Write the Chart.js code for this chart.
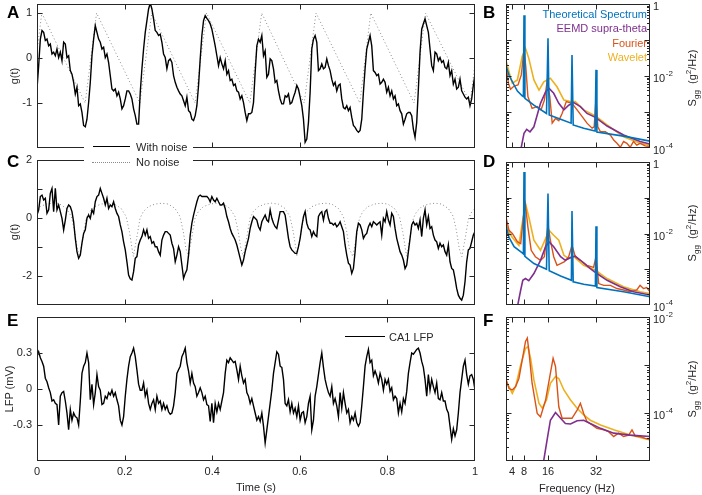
<!DOCTYPE html>
<html>
<head>
<meta charset="utf-8">
<script src="https://cdn.jsdelivr.net/npm/chart.js@4.4.1/dist/chart.umd.min.js"></script>
<style>
  body { margin: 0; background: #fff; }
  #fig { position: relative; width: 702px; height: 495px; overflow: hidden; font-family: "Liberation Sans", Arial, sans-serif; color: #262626; }
  #fig canvas { position: absolute; left: 0; top: 0; }
  .t { position: absolute; font-size: 11px; line-height: 12px; white-space: nowrap; }
  .c { transform: translate(-50%, -50%); }
  .r { transform: translate(-50%, -50%) rotate(-90deg); }
  .letter { position: absolute; font-size: 17px; line-height: 17px; font-weight: bold; color: #000; }
  .key { position: absolute; background: #fff; }
</style>
</head>
<body>
<div id="fig">
  <canvas id="cA" width="702" height="495"></canvas>
  <canvas id="cB" width="702" height="495"></canvas>
  <canvas id="cC" width="702" height="495"></canvas>
  <canvas id="cD" width="702" height="495"></canvas>
  <canvas id="cE" width="702" height="495"></canvas>
  <canvas id="cF" width="702" height="495"></canvas>

  <div class="letter" style="left:7px;top:4px">A</div>
  <div class="letter" style="left:483px;top:4px">B</div>
  <div class="letter" style="left:7px;top:153px">C</div>
  <div class="letter" style="left:483px;top:153px">D</div>
  <div class="letter" style="left:7px;top:312px">E</div>
  <div class="letter" style="left:483px;top:312px">F</div>

  <div class="t r" style="left:14px;top:76px">g(t)</div>
  <div class="t r" style="left:14px;top:232px">g(t)</div>
  <div class="t r" style="left:9px;top:389px">LFP (mV)</div>
  <div class="t c" style="left:256px;top:487px">Time (s)</div>
  <div class="t c" style="left:577px;top:488px">Frequency (Hz)</div>
  <div class="t r" style="left:693px;top:78px">S<sub style="font-size:8px">gg</sub>&nbsp; (g<sup style="font-size:8px">2</sup>/Hz)</div>
  <div class="t r" style="left:693px;top:233px">S<sub style="font-size:8px">gg</sub>&nbsp; (g<sup style="font-size:8px">2</sup>/Hz)</div>
  <div class="t r" style="left:693px;top:389px">S<sub style="font-size:8px">gg</sub>&nbsp; (g<sup style="font-size:8px">2</sup>/Hz)</div>

  <div class="t" style="right:55px;top:8px;color:#0072BD">Theoretical Spectrum</div>
  <div class="t" style="right:55px;top:22px;color:#7E2F8E">EEMD supra-theta</div>
  <div class="t" style="right:55px;top:37px;color:#D95319">Fourier</div>
  <div class="t" style="right:55px;top:51px;color:#EDB120">Wavelet</div>

  <div class="key" style="left:84px;top:139px;width:109px;height:31px"></div>
  <div class="key" style="left:93px;top:146px;width:37px;height:0;border-top:1.4px solid #000"></div>
  <div class="t" style="left:136px;top:141px">With noise</div>
  <div class="key" style="left:92px;top:162px;width:38px;height:0;border-top:1px dotted #8a8a8a"></div>
  <div class="t" style="left:136px;top:156px">No noise</div>

  <div class="key" style="left:345px;top:336px;width:40px;height:0;border-top:1.4px solid #000"></div>
  <div class="t" style="left:389px;top:331px">CA1 LFP</div>
</div>

<script>
// ---- axis ticks ----
const timeTicks = [0, 0.2, 0.4, 0.6, 0.8, 1];
const timeTickText = ['0', '0.2', '0.4', '0.6', '0.8', '1'];
const aTicks = [-1, 0, 1];
const aTickText = ['-1', '0', '1'];
const cTicks = [-2, -1, 0, 1, 2];
const cTickText = ['-2', '', '0', '', '2'];
const eTicks = [-0.3, 0, 0.3];
const eTickText = ['-0.3', '0', '0.3'];
const freqTicks = [4, 8, 16, 32];
const freqTickText = ['4', '8', '16', '32'];
const specTicks = [1e-4, 1e-2, 1];
const specTickText = ['10^-4', '10^-2', '1'];
const fTicks = [1e-4, 1e-2];
const fTickText = ['10^-4', '10^-2'];

// ---- A: sawtooth g(t), 1 s of samples ----
const aNoisy = [-0.69, -0.17, 0.42, 0.61, 0.57, 0.39, 0.42, 0.27, 0.31, 0.09, 0.13, 0.05, 0.20, 0.01, 0.13, -0.06, 0.35, 0.31, 0.01, 0.05,
  -0.28, -0.36, -0.54, -0.80, -0.65, -1.06, -1.02, -1.21, -1.50, -1.53, -1.36, -0.99, -0.54, 0.05, 0.42, 0.72, 0.57, 0.42, 0.35, 0.20,
  0.24, 0.01, 0.09, -0.10, -0.39, -0.69, -0.73, -0.69, -0.84, -0.76, -0.91, -1.13, -1.06, -0.91, -0.73, -0.73, -0.80, -0.91, -1.13, -1.28,
  -1.47, -1.47,
  -0.76, -0.24, 0.20, 0.57, 0.83, 1.09, 1.22, 1.09, 0.87, 0.61, 0.57, 0.50, 0.53, 0.35, 0.09, 0.01, -0.24, -0.06, -0.02, -0.10,
  -0.39, -0.54, -0.65, -0.73, -0.80, -0.84, -0.95, -1.06, -0.87, -1.17, -1.21, -1.36, -1.39, -1.28, -1.06, -0.61, -0.02, 0.50, 0.83, 0.94,
  0.88, 0.83, 0.76, 0.64, 0.46, 0.27, 0.05, -0.17, 0.01, -0.13, -0.24, -0.06, -0.36, -0.28, -0.50, -0.47, -0.61, -0.58, -0.73, -0.76,
  -0.91, -0.84, -0.99, -1.21, -1.39, -1.24, -1.24, -1.21, -0.99, -0.32, 0.27, 0.42, 0.35, 0.50, 0.05, 0.16, -0.43, -0.36, -0.02, -0.06,
  -0.24, -0.54, -0.50, -0.73, -0.91, -1.02, -1.02, -0.84, -0.87, -0.80, -1.02, -0.99, -0.87, -0.76, -0.61, -0.69, -0.87, -1.06, -1.36, -1.87,
  -1.80, -1.43, -0.76, 0.20, 0.42, 0.50, 0.35, -0.28, -0.24, -0.13, -0.24, -0.21, -0.02, -0.17, -0.28, -0.47, -0.61, -0.54, -0.73, -0.61,
  -0.58, -0.91, -1.10, -1.13, -1.06, -1.17, -1.10, -1.32, -1.50, -1.54, -1.61, -1.65, -1.61, -1.36, -0.76, -0.24, 0.20, 0.35, 0.50, 0.27,
  -0.28, -0.32, -0.39, -0.36, -0.58, -0.54, -0.47, -0.54, -0.76, -0.65, -0.84, -0.73, -0.91, -0.84, -1.06, -1.02, -1.17, -1.24, -1.47, -1.36,
  -1.24, -1.21, -1.21, -1.28, -1.58, -1.76, -1.43, -0.69, 0.13, 0.64, 0.76, 0.87, 0.72, 0.57, 0.20, -0.17, -0.28, 0.13, 0.09, -0.06,
  0.01, -0.10, -0.06, -0.21, -0.24, -0.10, -0.39, -0.28, -0.58, -0.47, -0.69, -0.65, -0.47, -0.73, -0.80, -0.87, -0.91, -0.87, -1.06, -0.91,
  -0.61, -0.36];
const aCleanT = [-0.015, 0.011, 0.110, 0.136, 0.235, 0.262, 0.361, 0.387, 0.486, 0.513, 0.610, 0.637, 0.737, 0.762, 0.861, 0.887, 0.989, 1.014];
const aCleanG = [-1, 1, -1, 1, -1, 1, -1, 1, -1, 1, -1, 1, -1, 1, -1, 1, -1, 1];

// ---- C: rounded-wave g(t) ----
const cNoisy = [0.10, 0.28, 0.74, 0.79, 0.62, 0.68, 0.16, 0.28, 0.85, 1.02, 0.22, 1.02, 0.28, 0.45, 0.22, -0.01, -0.41, -0.07, 0.33, 0.45,
  0.39, 0.22, -0.13, -0.70, -1.16, -1.39, -1.28, -0.87, -0.53, -0.41, -0.01, 0.10, -0.01, 0.28, 0.16, 0.56, 0.74, 0.79, 1.02, 0.85,
  0.68, 0.45, 0.68, 0.33, 0.45, 0.39, 0.56, 0.33, 0.16, 0.05, -0.24, -0.47, -0.82, -1.10, -1.51, -1.97, -2.10, -2.14, -1.85, -1.39,
  -1.33, -0.93, -0.76, -0.64, -0.41, -0.59, -0.41, -0.70, -0.64, -0.87, -0.82, -0.99, -0.99, -1.16, -1.28, -0.76, -0.59, -0.47, -0.47, -0.53,
  -0.59, -0.87, -1.05, -1.51, -1.28, -0.99, -1.16, -1.62, -2.08, -1.91, -1.79, -1.28, -0.59, -0.18, 0.10, 0.33, 0.56, 0.74, 0.79, 0.74,
  0.74, 0.74, 0.74, 0.68, 0.56, 0.74, 0.62, 0.56, 0.68, 0.56, 0.45, 0.45, 0.51, 0.33, 0.05, -0.13, -0.36, -0.53, -0.64, -0.76,
  -0.93, -1.16, -1.39, -1.62, -1.45, -1.16, -0.93, -0.70, -0.36, -0.13, 0.05, -0.01, -0.07, -0.30, -0.41, -0.13, -0.01, 0.10, -0.07, -0.13,
  0.28, -0.01, -0.18, -0.30, -0.36, -0.07, 0.22, 0.22, 0.22, 0.10, -0.30, -0.70, -0.99, -1.10, -1.16, -1.22, -1.22, -0.99, -0.70, -0.30,
  0.05, 0.22, -0.18, -0.36, -0.41, -0.64, -0.47, -0.59, -0.64, 0.05, 0.16, 0.22, -0.07, 0.22, 0.28, -0.01, -0.18, -0.18, -0.24, -0.18,
  -0.30, -0.24, -0.13, -0.30, -0.47, -0.93, -1.28, -1.56, -1.62, -1.91, -1.74, -1.16, -0.47, -0.18, -0.24, -0.41, -0.70, -0.59, -0.53, -0.30,
  -0.18, -0.30, -0.13, -0.18, -0.24, -0.18, -0.13, -0.59, -0.01, -0.13, 0.22, -0.07, -0.24, 0.16, 0.05, -0.36, -0.70, -0.93, -1.16, -1.28,
  -1.45, -1.74, -1.62, -1.16, -0.70, -0.24, -0.13, -0.24, -0.18, -0.36, -0.07, -0.64, -0.01, 0.28, -0.24, 0.05, -0.36, -0.30, -0.59, -0.76,
  -0.82, -1.05, -0.87, -0.99, -0.93, -1.16, -1.28, -0.93, -1.51, -1.74, -1.79, -2.08, -2.43, -2.66, -2.77, -2.83, -2.66, -2.20, -1.51, -1.10,
  -1.05, -0.82, -0.59, -0.47];
const cTroughT = [-0.028, 0.097, 0.220, 0.3455, 0.471, 0.593, 0.721, 0.844, 0.970];
const cCycleDt = [0, 0.0076, 0.0152, 0.0228, 0.0342, 0.0495, 0.0647, 0.080, 0.095, 0.1065, 0.114, 0.120];
const cCycleG = [-1.33, -0.70, -0.01, 0.22, 0.39, 0.48, 0.51, 0.48, 0.33, 0.05, -0.47, -1.05];

// ---- E: CA1 LFP (mV) ----
const eLfp = [0.27, 0.31, 0.26, 0.23, 0.19, 0.09, 0.06, 0.01, -0.03, -0.10, -0.09, -0.12, -0.13, -0.30, -0.06, -0.03, -0.02, -0.10, -0.20, -0.34,
  -0.17, -0.26, -0.20, -0.23, -0.24, -0.30, -0.10, 0.13, 0.19, 0.22, 0.30, 0.22, -0.09, 0.04, -0.13, -0.03, 0.12, 0.02, -0.01, -0.13,
  -0.12, -0.06, -0.08, -0.03, -0.05, -0.01, -0.06, -0.03, -0.09, -0.14, -0.26, -0.30, -0.23, -0.06, 0.08, 0.19, 0.27, 0.30, 0.34, 0.27,
  0.16, 0.04, -0.01, -0.01, 0.05, -0.06, -0.01, -0.12, -0.17, -0.12, -0.09, -0.17, -0.06, -0.12, -0.10, -0.17, -0.12, -0.17, -0.14, -0.19,
  -0.21, -0.20, -0.14, -0.03, 0.13, 0.16, 0.19, 0.27, 0.30, 0.34, 0.22, 0.15, 0.05, 0.13, 0.05, 0.02, -0.06, -0.03, 0.01, -0.03,
  -0.09, -0.06, -0.13, -0.14, -0.27, -0.12, -0.28, -0.12, -0.19, -0.12, -0.17, -0.10, -0.03, 0.13, 0.24, 0.22, 0.26, 0.24, 0.22, 0.23,
  0.16, 0.08, 0.19, 0.11, 0.05, 0.08, -0.03, -0.06, -0.12, -0.08, -0.14, -0.20, -0.26, -0.23, -0.27, -0.20, -0.31, -0.45, -0.34, -0.23,
  -0.12, -0.01, 0.13, 0.22, 0.31, 0.29, 0.19, 0.18, 0.08, -0.12, -0.14, -0.09, -0.19, -0.12, -0.20, -0.16, -0.23, -0.14, -0.26, -0.20,
  -0.19, -0.28, -0.23, -0.12, -0.06, -0.34, -0.26, -0.06, 0.02, 0.12, 0.22, 0.30, 0.18, 0.08, 0.02, -0.03, -0.06, 0.02, -0.12, -0.08,
  -0.14, -0.23, -0.03, -0.16, -0.03, -0.12, -0.20, -0.17, -0.28, -0.23, -0.26, -0.20, -0.28, -0.31, -0.28, -0.14, 0.02, 0.19, 0.27, 0.33,
  0.22, 0.24, 0.11, 0.15, 0.11, 0.05, 0.13, 0.08, -0.01, 0.08, 0.04, 0.08, -0.02, 0.01, -0.09, -0.06, -0.08, -0.20, -0.12, -0.19,
  -0.08, -0.12, -0.02, 0.13, 0.22, 0.30, 0.29, 0.31, 0.33, 0.34, 0.30, 0.23, 0.18, 0.08, -0.06, 0.12, -0.01, 0.08, 0.02, -0.03,
  0.05, -0.08, -0.09, -0.03, -0.10, -0.10, -0.17, -0.20, -0.31, -0.42, -0.33, -0.39, -0.34, -0.20, -0.03, 0.08, 0.19, 0.24, 0.12, 0.04,
  0.11, 0.12, 0.08, -0.01];

// ---- spectra: frequency (Hz) and base-10 exponent of S_gg ----
const bTheoHz = [2.1, 3.0, 4.7, 5.8, 7.4, 7.8, 8.0, 8.3, 11.3, 15.5, 16.0, 16.4, 20.2, 23.7, 24.0, 24.4, 27.9, 31.7, 32.0, 32.3, 41.2, 50];
const bTheoExp = [-1.74, -1.98, -2.25, -2.42, -2.55, -2.57, -0.31, -2.62, -2.81, -3.04, -0.95, -3.08, -3.20, -3.31, -1.42, -3.36, -3.45, -3.53, -1.83, -3.56, -3.67, -3.81];
const bEemdHz = [6.9, 8.0, 8.9, 10.0, 11.3, 13.5, 15.2, 16.3, 17.9, 19.6, 21.3, 22.9, 24.6, 26.8, 29.0, 31.8, 35.7, 41.2, 46.7, 50];
const bEemdExp = [-4.06, -3.59, -3.48, -3.55, -3.41, -2.76, -2.44, -2.34, -2.48, -2.76, -2.94, -2.81, -2.74, -2.85, -3.04, -3.15, -3.39, -3.64, -3.82, -3.89];
const bFourierHz = [2.1, 2.8, 3.5, 4.7, 6.0, 7.1, 8.0, 8.6, 9.3, 10.7, 12.4, 13.7, 14.8, 15.7, 16.6, 17.4, 18.5, 19.6, 20.7, 22.1, 24.0,
  25.7, 27.4, 29.0, 30.7, 31.4, 32.0, 32.6, 33.5, 35.1, 36.8, 37.9, 39.0, 40.1, 41.2, 42.3, 43.4, 44.5, 45.6, 46.7, 48.4, 50];
const bFourierExp = [-1.74, -2.20, -2.37, -2.28, -2.25, -1.97, -1.28, -1.74, -2.57, -2.90, -2.85, -2.94, -2.67, -2.16, -2.57, -3.31, -3.18, -3.24, -3.04, -2.71, -2.76,
  -2.94, -3.13, -3.31, -3.45, -3.41, -2.62, -3.41, -3.55, -3.55, -3.64, -3.78, -3.87, -3.98, -3.82, -3.87, -3.98, -3.82, -3.92, -3.87, -3.94, -3.96];
const bWaveletHz = [2.1, 3.0, 4.1, 5.8, 7.4, 8.5, 9.6, 11.3, 13.0, 14.6, 16.8, 19.0, 21.3, 23.5, 25.1, 27.9, 31.8, 35.7, 41.2, 46.7, 50];
const bWaveletExp = [-1.60, -1.88, -2.20, -2.11, -1.46, -1.23, -1.51, -2.11, -2.39, -2.16, -2.06, -2.30, -2.67, -2.71, -2.71, -2.94, -3.11, -3.36, -3.69, -3.87, -3.92];

const dTheoHz = [2.1, 3.0, 4.7, 7.4, 7.8, 8.0, 8.3, 11.3, 15.5, 16.0, 16.4, 20.2, 23.8, 24.0, 24.4, 27.9, 31.8, 32.0, 32.3, 41.2, 50];
const dTheoExp = [-1.82, -2.11, -2.37, -2.54, -2.57, -0.28, -2.64, -2.84, -3.00, -0.88, -3.04, -3.19, -3.31, -1.37, -3.35, -3.42, -3.47, -1.80, -3.51, -3.63, -3.77];
const dEemdHz = [5.8, 6.9, 7.6, 8.5, 9.6, 11.3, 13.5, 15.2, 16.3, 17.9, 20.2, 21.8, 23.5, 25.1, 27.4, 30.1, 32.3, 35.7, 40.1, 44.5, 50];
const dEemdExp = [-4.05, -3.58, -3.31, -3.26, -3.32, -3.12, -2.75, -2.37, -2.23, -2.37, -2.65, -2.75, -2.67, -2.63, -2.79, -2.98, -3.12, -3.31, -3.49, -3.63, -3.72];
const dFourierHz = [2.1, 3.0, 4.1, 5.8, 6.9, 7.8, 8.5, 9.3, 10.4, 11.8, 13.5, 14.8, 16.0, 16.8, 17.9, 19.0, 20.2, 21.5, 22.9, 24.0, 25.1,
  26.8, 29.0, 31.2, 32.0, 32.9, 34.6, 36.8, 39.0, 41.2, 43.4, 45.6, 46.7, 47.8, 48.9, 50];
const dFourierExp = [-1.58, -1.91, -2.00, -2.23, -2.28, -1.54, -1.21, -1.82, -2.47, -2.65, -2.75, -2.65, -1.77, -2.19, -2.65, -2.89, -2.84, -2.79, -2.65, -2.33, -2.65,
  -2.75, -2.89, -2.95, -2.65, -3.40, -3.45, -3.45, -3.54, -3.58, -3.63, -3.58, -3.45, -3.54, -3.51, -3.63];
const dWaveletHz = [2.1, 3.0, 4.1, 6.3, 7.4, 8.5, 9.6, 11.3, 13.5, 15.2, 16.3, 17.9, 19.6, 21.3, 22.9, 24.6, 27.9, 31.8, 35.7, 41.2, 46.7, 50];
const dWaveletExp = [-1.68, -1.96, -2.11, -2.33, -1.72, -1.16, -1.54, -2.19, -2.47, -2.14, -1.91, -2.05, -2.19, -2.61, -2.70, -2.65, -2.89, -3.03, -3.26, -3.49, -3.63, -3.68];

const fEemdHz = [14.6, 15.7, 16.8, 18.5, 20.2, 21.8, 23.5, 25.7, 27.9, 30.1, 33.5, 37.9, 43.4, 50];
const fEemdExp = [-4.98, -4.56, -4.15, -3.99, -4.11, -4.22, -4.23, -4.16, -4.15, -4.22, -4.32, -4.42, -4.46, -4.49];
const fFourierHz = [2.1, 3.0, 4.1, 5.2, 6.3, 7.4, 8.5, 9.1, 9.6, 10.7, 12.4, 13.5, 15.2, 16.8, 17.7, 18.5, 19.6, 20.7, 22.4, 24.0,
  25.7, 26.8, 27.9, 29.0, 30.7, 32.3, 34.6, 36.2, 37.9, 39.5, 41.2, 42.9, 44.0, 45.1, 46.7, 48.4, 50];
const fFourierExp = [-3.31, -3.49, -3.52, -3.45, -3.28, -2.90, -2.51, -2.44, -2.69, -3.38, -4.01, -4.08, -3.73, -3.17, -2.86, -3.03, -3.87, -4.11, -4.11, -4.11,
  -3.94, -3.80, -4.01, -4.18, -4.25, -4.32, -4.35, -4.39, -4.49, -4.42, -4.49, -4.46, -4.35, -4.48, -4.49, -4.53, -4.55];
const fWaveletHz = [2.1, 3.0, 4.1, 5.2, 6.9, 8.5, 9.3, 10.2, 11.3, 13.0, 14.1, 15.5, 16.8, 18.5, 19.6, 21.3, 23.5, 25.7, 27.9, 30.1, 33.5, 37.9, 43.4, 50];
const fWaveletExp = [-3.35, -3.45, -3.59, -3.45, -3.00, -2.65, -2.62, -2.86, -3.31, -3.80, -3.90, -3.73, -3.38, -3.24, -3.28, -3.52, -3.73, -3.90, -4.04, -4.15, -4.25, -4.35, -4.46, -4.56];

// ---- colours ----
const ink = '#262626';
const blue = '#0072BD', purple = '#7E2F8E', orange = '#D95319', yellow = '#EDB120';
const font11 = '11px "Liberation Sans", Arial, sans-serif';
const font8 = '8px "Liberation Sans", Arial, sans-serif';

function timeSeries(vals) {
  return vals.map((v, i) => ({ x: i / (vals.length - 1), y: v }));
}
function pairs(xs, ys) {
  return xs.map((x, i) => ({ x: x, y: ys[i] }));
}
function spectrum(hz, ex) {
  return hz.map((f, i) => ({ x: f, y: Math.pow(10, ex[i]) }));
}
function line(data, color, width, dash) {
  return { data: data, borderColor: color, borderWidth: width, borderDash: dash || [], pointRadius: 0, tension: 0, fill: false };
}

// box with inward ticks on all sides, MATLAB style
function frame(cfg) {
  return {
    id: 'frame',
    afterDatasetsDraw(chart) {
      const ctx = chart.ctx, a = chart.chartArea, xs = chart.scales.x, ys = chart.scales.y;
      const L = Math.round(a.left) + 0.5, R = Math.round(a.right) - 0.5;
      const T = Math.round(a.top) + 0.5, B = Math.round(a.bottom) - 0.5;
      ctx.save();
      ctx.strokeStyle = ink;
      ctx.lineWidth = 1;
      ctx.strokeRect(L, T, R - L, B - T);
      ctx.beginPath();
      cfg.xTicks.forEach(v => {
        const p = Math.round(xs.getPixelForValue(v)) + 0.5;
        if (p < L + 2 || p > R - 2) return;
        ctx.moveTo(p, B); ctx.lineTo(p, B - 5);
        ctx.moveTo(p, T); ctx.lineTo(p, T + 5);
      });
      let yt = cfg.yTicks.map(v => [v, 5]);
      if (cfg.log) {
        yt = [];
        for (let e = Math.floor(Math.log10(ys.min)); e <= Math.ceil(Math.log10(ys.max)); e++) {
          for (let k = 1; k <= 9; k++) {
            const v = k * Math.pow(10, e);
            if (v >= ys.min * 0.999 && v <= ys.max * 1.001) yt.push([v, k === 1 ? 5 : 2.5]);
          }
        }
      }
      yt.forEach(([v, len]) => {
        const p = Math.round(ys.getPixelForValue(v)) + 0.5;
        if (p < T + 1 || p > B - 1) return;
        ctx.moveTo(L, p); ctx.lineTo(L + len, p);
        ctx.moveTo(R, p); ctx.lineTo(R - len, p);
      });
      ctx.stroke();

      ctx.fillStyle = ink;
      ctx.font = font11;
      if (cfg.xText) {
        ctx.textAlign = 'center';
        ctx.textBaseline = 'middle';
        cfg.xTicks.forEach((v, i) => ctx.fillText(cfg.xText[i], xs.getPixelForValue(v), a.bottom + 11));
      }
      if (cfg.yText && !cfg.log) {
        ctx.textAlign = 'right';
        ctx.textBaseline = 'middle';
        cfg.yTicks.forEach((v, i) => ctx.fillText(cfg.yText[i], a.left - 5, ys.getPixelForValue(v)));
      }
      if (cfg.yText && cfg.log) {
        ctx.textAlign = 'left';
        ctx.textBaseline = 'middle';
        cfg.yTicks.forEach((v, i) => {
          const txt = cfg.yText[i], py = ys.getPixelForValue(v) + 3, px = a.right + 3;
          const parts = txt.split('^');
          ctx.font = font11;
          ctx.fillText(parts[0], px, py);
          if (parts[1]) {
            const w = ctx.measureText(parts[0]).width;
            ctx.font = font8;
            ctx.fillText(parts[1], px + w + 0.5, py - 5);
          }
        });
      }
      ctx.restore();
    }
  };
}

function panel(id, box, xOpt, yOpt, datasets, cfg) {
  const [L, T, R, B] = box;
  new Chart(document.getElementById(id), {
    type: 'line',
    data: { datasets: datasets },
    options: {
      responsive: false,
      animation: false,
      events: [],
      layout: { padding: { left: L, top: T, right: 702 - R, bottom: 495 - B } },
      plugins: { legend: { display: false }, tooltip: { enabled: false } },
      scales: {
        x: Object.assign({ type: 'linear', display: false }, xOpt),
        y: Object.assign({ type: 'linear', display: false }, yOpt)
      }
    },
    plugins: [frame(cfg)]
  });
}

// C no-noise curve: one read cycle shape placed at each read trough time
const cClean = [];
cTroughT.forEach(t0 => cCycleDt.forEach((dt, j) => cClean.push({ x: t0 + dt, y: cCycleG[j] })));

const timeX = { min: 0, max: 1 };
const freqX = { min: 2, max: 50 };

panel('cA', [37, 4, 475, 148], timeX, { min: -2, max: 1.2 }, [
  line(timeSeries(aNoisy), '#000', 1.4),
  line(pairs(aCleanT, aCleanG), '#8a8a8a', 1, [1, 2.5])
], { xTicks: timeTicks, yTicks: aTicks, yText: aTickText });

panel('cC', [37, 160, 475, 305], timeX, { min: -3, max: 2 }, [
  line(timeSeries(cNoisy), '#000', 1.4),
  line(cClean, '#8a8a8a', 1, [1, 2.5])
], { xTicks: timeTicks, yTicks: cTicks, yText: cTickText });

panel('cE', [37, 317, 475, 461], timeX, { min: -0.6, max: 0.6 }, [
  line(timeSeries(eLfp), '#000', 1.4)
], { xTicks: timeTicks, xText: timeTickText, yTicks: eTicks, yText: eTickText });

const logY = (lo, hi) => ({ type: 'logarithmic', min: lo, max: hi });

panel('cB', [506, 4, 650, 148], freqX, logY(1e-4, 1), [
  line(spectrum(bTheoHz, bTheoExp), blue, 1.6),
  line(spectrum(bEemdHz, bEemdExp), purple, 1.6),
  line(spectrum(bFourierHz, bFourierExp), orange, 1.4),
  line(spectrum(bWaveletHz, bWaveletExp), yellow, 1.6)
], { xTicks: freqTicks, yTicks: specTicks, yText: specTickText, log: true });

panel('cD', [506, 162, 650, 305], freqX, logY(1e-4, 1), [
  line(spectrum(dTheoHz, dTheoExp), blue, 1.6),
  line(spectrum(dEemdHz, dEemdExp), purple, 1.6),
  line(spectrum(dFourierHz, dFourierExp), orange, 1.4),
  line(spectrum(dWaveletHz, dWaveletExp), yellow, 1.6)
], { xTicks: freqTicks, yTicks: specTicks, yText: specTickText, log: true });

panel('cF', [506, 317, 650, 461], freqX, logY(1e-5, 1e-2), [
  line(spectrum(fEemdHz, fEemdExp), purple, 1.6),
  line(spectrum(fFourierHz, fFourierExp), orange, 1.4),
  line(spectrum(fWaveletHz, fWaveletExp), yellow, 1.6)
], { xTicks: freqTicks, xText: freqTickText, yTicks: fTicks, yText: fTickText, log: true });
</script>
</body>
</html>
